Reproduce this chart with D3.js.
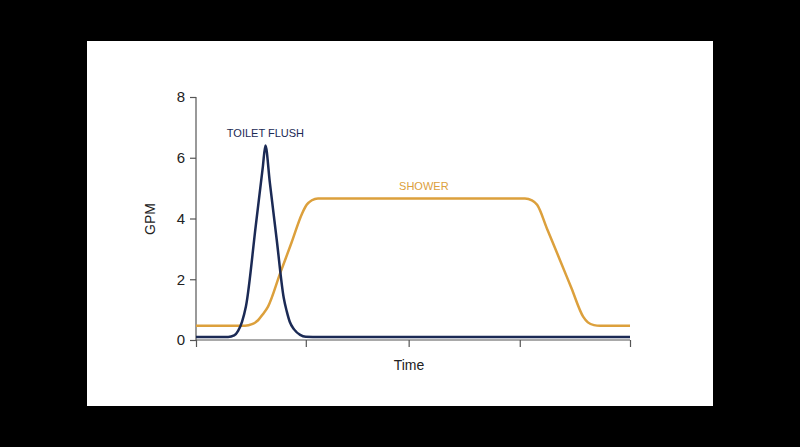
<!DOCTYPE html>
<html>
<head>
<meta charset="utf-8">
<script src="https://cdn.jsdelivr.net/npm/d3@7"></script>
<style>
  html, body { margin: 0; padding: 0; background: #000; }
  svg { display: block; }
</style>
</head>
<body>
<svg></svg>
<script>
// time is in arbitrary units 0..100, flow in gallons per minute
const xTicks = [0, 25.3, 49.0, 74.6, 100];
const yTicks = [0, 2, 4, 6, 8];

const toiletTime = [0, 7.4, 8.8, 9.7, 10.6, 11.5, 13.8, 15.4, 16.0, 17.0, 18.6, 20.2, 20.9, 21.6, 22.6, 24.0, 25.3, 28.6, 100];
const toiletGpm  = [0.1, 0.1, 0.15, 0.3, 0.6, 1.1, 3.8, 5.7, 6.4, 5.2, 3.3, 1.4, 0.95, 0.6, 0.35, 0.17, 0.11, 0.1, 0.1];

const showerTime = [0, 11.3, 12.9, 14.3, 15.4, 16.6, 19.4, 22.0, 24.4, 25.5, 26.7, 28.1, 75.8, 77.4, 78.6, 81.0, 83.9, 86.5, 89.2, 90.3, 91.7, 93.1, 100];
const showerGpm  = [0.47, 0.47, 0.52, 0.65, 0.85, 1.1, 2.2, 3.2, 4.15, 4.45, 4.6, 4.66, 4.66, 4.6, 4.45, 3.62, 2.62, 1.71, 0.77, 0.58, 0.49, 0.47, 0.47];

const labels = [
  { text: "TOILET FLUSH", t: 16.0, v: 6.68, color: "#1b2a55" },
  { text: "SHOWER", t: 52.5, v: 4.93, color: "#dca03c" }
];

const width = 800, height = 447;
const svg = d3.select("svg").attr("width", width).attr("height", height);

svg.append("rect")
  .attr("x", 87).attr("y", 41)
  .attr("width", 626).attr("height", 365)
  .attr("fill", "#fff");

const x = d3.scaleLinear().domain([0, 100]).range([196, 630]);
const y = d3.scaleLinear().domain([0, 8]).range([340, 97]);

const font = "'Liberation Sans', Arial, sans-serif";

// axes
const yAxis = svg.append("g")
  .attr("transform", `translate(${x(0)},0)`)
  .call(d3.axisLeft(y).tickValues(yTicks).tickSize(6).tickPadding(5));
const xAxis = svg.append("g")
  .attr("transform", `translate(0,${y(0)})`)
  .call(d3.axisBottom(x).tickValues(xTicks).tickSize(7).tickFormat(""));

[yAxis, xAxis].forEach(g => {
  g.select(".domain").attr("stroke", "#555").attr("stroke-width", 1.2);
  g.selectAll(".tick line").attr("stroke", "#555").attr("stroke-width", 1.2);
});
xAxis.select(".domain").attr("d", `M${x(0)},0H${x(100)}`);
yAxis.select(".domain").attr("d", `M0,${y(8)}V${y(0)}`);
yAxis.selectAll(".tick text")
  .attr("font-family", font).attr("font-size", 15).attr("fill", "#222");

const line = d3.line()
  .x(d => x(d[0]))
  .y(d => y(d[1]))
  .curve(d3.curveMonotoneX);

svg.append("path")
  .datum(d3.zip(showerTime, showerGpm))
  .attr("d", line)
  .attr("fill", "none")
  .attr("stroke", "#dca03c")
  .attr("stroke-width", 2.5);

svg.append("path")
  .datum(d3.zip(toiletTime, toiletGpm))
  .attr("d", line)
  .attr("fill", "none")
  .attr("stroke", "#1b2a55")
  .attr("stroke-width", 2.5)
  .attr("stroke-linejoin", "round");

svg.selectAll(".series-label")
  .data(labels)
  .enter()
  .append("text")
  .attr("class", "series-label")
  .attr("x", d => x(d.t))
  .attr("y", d => y(d.v))
  .attr("text-anchor", "middle")
  .attr("font-family", font)
  .attr("font-size", 11)
  .attr("fill", d => d.color)
  .text(d => d.text);

svg.append("text")
  .attr("x", 409).attr("y", 370)
  .attr("text-anchor", "middle")
  .attr("font-family", font).attr("font-size", 14)
  .attr("fill", "#222")
  .text("Time");

svg.append("text")
  .attr("transform", `translate(155,219) rotate(-90)`)
  .attr("text-anchor", "middle")
  .attr("font-family", font).attr("font-size", 14)
  .attr("fill", "#222")
  .text("GPM");
</script>
</body>
</html>
